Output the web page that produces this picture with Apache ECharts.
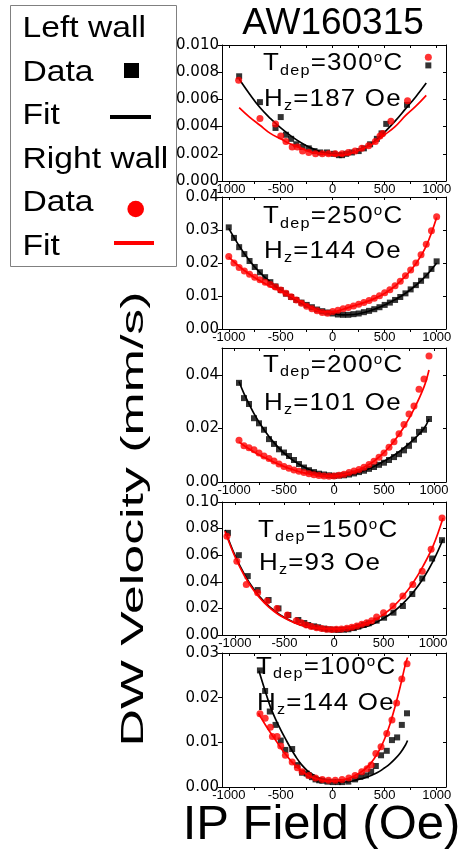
<!DOCTYPE html>
<html>
<head>
<meta charset="utf-8">
<script src="https://cdn.jsdelivr.net/npm/echarts@6/dist/echarts.min.js"></script>
<style>
  html, body { margin: 0; padding: 0; background: #fff; }
  #chart { width: 462px; height: 857px; }
</style>
</head>
<body>
<div id="chart"></div>
<script>
// ---- axis ticks and labels ----
const fieldLabels = [-1000, -500, 0, 500, 1000];
const fieldTicks = [-1000, -750, -500, -250, 0, 250, 500, 750, 1000];
const velLabels300 = [0, 0.002, 0.004, 0.006, 0.008, 0.010];
const velLabels250 = [0, 0.01, 0.02, 0.03, 0.04];
const velLabels200 = [0, 0.02, 0.04];
const velLabels150 = [0, 0.02, 0.04, 0.06, 0.08, 0.10];
const velLabels100 = [0, 0.01, 0.02, 0.03];

// ---- panel annotations ----
const depTemps = ['300', '250', '200', '150', '100'];
const hzValues = ['187', '144', '101', '93', '144'];

// ---- T_dep = 300 C ----
const left300Data = [[-900,0.0077],[-700,0.0058],[-550,0.0039],[-500,0.0047],[-450,0.0034],[-400,0.0031],[-350,0.0027],[-290,0.0025],[-230,0.0024],[-175,0.0022],[-120,0.0021],[-55,0.0021],[10,0.0020],[60,0.0019],[90,0.0019],[130,0.0020],[185,0.0021],[250,0.0022],[300,0.0024],[360,0.0027],[425,0.0031],[470,0.0035],[515,0.0042],[715,0.0056],[920,0.0085]];
const left300Fit = [[-900,0.0075],[-800,0.0064],[-700,0.0054],[-600,0.0046],[-500,0.0039],[-400,0.0033],[-300,0.0028],[-200,0.0024],[-100,0.0021],[0,0.0020],[100,0.0019],[200,0.0021],[300,0.0024],[400,0.0029],[500,0.0036],[600,0.0044],[700,0.0053],[800,0.0062],[900,0.0072]];
const right300Data = [[-905,0.0074],[-700,0.0046],[-550,0.0042],[-500,0.0033],[-450,0.0029],[-390,0.0025],[-340,0.0025],[-290,0.0022],[-230,0.0021],[-165,0.0020],[-100,0.0020],[-40,0.0020],[25,0.0020],[90,0.0020],[150,0.0021],[215,0.0022],[280,0.0024],[345,0.0026],[410,0.0029],[455,0.0033],[480,0.0035],[560,0.0044],[720,0.0059],[920,0.0091]];
const right300Fit = [[-900,0.0054],[-800,0.0047],[-700,0.0041],[-600,0.0035],[-500,0.0031],[-400,0.0027],[-300,0.0024],[-200,0.0021],[-100,0.0020],[0,0.0019],[100,0.0019],[200,0.0021],[300,0.0024],[400,0.0028],[500,0.0034],[600,0.0040],[700,0.0048],[800,0.0055],[900,0.0063]];

// ---- T_dep = 250 C ----
const left250Data = [[-1000,0.0308],[-950,0.0276],[-900,0.0248],[-850,0.0227],[-800,0.0206],[-750,0.0188],[-700,0.0172],[-650,0.0157],[-600,0.0142],[-550,0.0129],[-500,0.0118],[-450,0.0107],[-400,0.0097],[-350,0.0088],[-300,0.0080],[-250,0.0073],[-200,0.0066],[-150,0.0059],[-100,0.0054],[-50,0.0050],[0,0.0047],[50,0.0044],[100,0.0043],[150,0.0043],[200,0.0045],[250,0.0047],[300,0.0051],[350,0.0055],[400,0.0060],[450,0.0066],[500,0.0073],[550,0.0080],[600,0.0088],[650,0.0097],[700,0.0108],[750,0.0120],[800,0.0133],[850,0.0146],[900,0.0162],[950,0.0182],[1000,0.0205]];
const left250Fit = [[-1000,0.0305],[-900,0.0252],[-800,0.0207],[-700,0.0171],[-600,0.0142],[-500,0.0117],[-400,0.0096],[-300,0.0079],[-200,0.0065],[-100,0.0054],[0,0.0047],[100,0.0043],[200,0.0044],[300,0.0050],[400,0.0060],[500,0.0073],[600,0.0089],[700,0.0108],[800,0.0132],[900,0.0162],[1000,0.0200]];
const right250Data = [[-1000,0.0220],[-950,0.0200],[-900,0.0186],[-850,0.0176],[-800,0.0166],[-750,0.0157],[-700,0.0149],[-650,0.0142],[-600,0.0135],[-550,0.0127],[-500,0.0118],[-450,0.0108],[-400,0.0098],[-350,0.0088],[-300,0.0078],[-250,0.0069],[-200,0.0061],[-150,0.0055],[-100,0.0050],[-50,0.0048],[0,0.0053],[50,0.0057],[100,0.0061],[150,0.0065],[200,0.0070],[250,0.0075],[300,0.0080],[350,0.0086],[400,0.0093],[450,0.0101],[500,0.0110],[550,0.0119],[600,0.0131],[650,0.0145],[700,0.0161],[750,0.0179],[800,0.0200],[850,0.0225],[900,0.0257],[950,0.0298],[1000,0.0340]];
const right250Fit = [[-1000,0.0218],[-900,0.0190],[-800,0.0166],[-700,0.0146],[-600,0.0129],[-500,0.0114],[-400,0.0099],[-300,0.0082],[-200,0.0064],[-100,0.0052],[0,0.0052],[100,0.0060],[200,0.0070],[300,0.0080],[400,0.0092],[500,0.0108],[600,0.0130],[700,0.0160],[800,0.0198],[900,0.0252],[1000,0.0338]];

// ---- T_dep = 200 C ----
const left200Data = [[-950,0.0370],[-900,0.0313],[-850,0.0291],[-800,0.0238],[-750,0.0219],[-700,0.0195],[-650,0.0160],[-600,0.0142],[-550,0.0122],[-500,0.0110],[-450,0.0097],[-400,0.0082],[-350,0.0067],[-300,0.0054],[-250,0.0044],[-200,0.0037],[-150,0.0031],[-100,0.0028],[-50,0.0025],[0,0.0023],[50,0.0024],[100,0.0025],[150,0.0028],[200,0.0032],[250,0.0037],[300,0.0042],[350,0.0049],[400,0.0056],[450,0.0064],[500,0.0072],[550,0.0082],[600,0.0093],[650,0.0104],[700,0.0118],[750,0.0135],[800,0.0158],[850,0.0187],[900,0.0195],[950,0.0235]];
const left200Fit = [[-950,0.0375],[-900,0.0330],[-800,0.0255],[-700,0.0195],[-600,0.0147],[-500,0.0108],[-400,0.0078],[-300,0.0056],[-200,0.0039],[-100,0.0028],[0,0.0023],[100,0.0024],[200,0.0030],[300,0.0042],[400,0.0058],[500,0.0078],[600,0.0100],[700,0.0127],[800,0.0160],[900,0.0200],[950,0.0235]];
const right200Data = [[-950,0.0156],[-900,0.0135],[-850,0.0128],[-800,0.0120],[-750,0.0108],[-700,0.0097],[-650,0.0088],[-600,0.0078],[-550,0.0067],[-500,0.0058],[-450,0.0051],[-400,0.0045],[-350,0.0040],[-300,0.0035],[-250,0.0031],[-200,0.0027],[-150,0.0024],[-100,0.0022],[-50,0.0021],[0,0.0022],[50,0.0025],[100,0.0029],[150,0.0035],[200,0.0041],[250,0.0047],[300,0.0055],[350,0.0065],[400,0.0077],[450,0.0092],[500,0.0108],[550,0.0130],[600,0.0150],[650,0.0180],[700,0.0215],[750,0.0254],[800,0.0284],[850,0.0346],[900,0.0384],[950,0.0470]];
const right200Fit = [[-950,0.0150],[-900,0.0136],[-800,0.0112],[-700,0.0092],[-600,0.0074],[-500,0.0058],[-400,0.0045],[-300,0.0034],[-200,0.0027],[-100,0.0022],[0,0.0022],[100,0.0027],[200,0.0038],[300,0.0055],[400,0.0078],[500,0.0110],[600,0.0152],[700,0.0205],[800,0.0272],[900,0.0355],[950,0.0418]];

// ---- T_dep = 150 C ----
const left150Data = [[-1070,0.0768],[-960,0.0600],[-870,0.0443],[-770,0.0338],[-660,0.0263],[-560,0.0200],[-460,0.0150],[-360,0.0113],[-300,0.0090],[-260,0.0075],[-200,0.0065],[-160,0.0058],[-100,0.0048],[-60,0.0043],[0,0.0040],[45,0.0038],[100,0.0040],[145,0.0043],[200,0.0052],[245,0.0063],[300,0.0075],[350,0.0088],[430,0.0108],[505,0.0130],[600,0.0168],[695,0.0218],[790,0.0308],[890,0.0425],[990,0.0575],[1090,0.0713]];
const left150Fit = [[-1100,0.0790],[-1000,0.0600],[-900,0.0450],[-800,0.0335],[-700,0.0248],[-600,0.0181],[-500,0.0131],[-400,0.0094],[-300,0.0067],[-200,0.0049],[-100,0.0038],[0,0.0032],[100,0.0033],[200,0.0041],[300,0.0058],[400,0.0085],[500,0.0125],[600,0.0175],[700,0.0240],[800,0.0322],[900,0.0425],[1000,0.0555],[1100,0.0720]];
const right150Data = [[-1080,0.0743],[-980,0.0555],[-885,0.0380],[-770,0.0318],[-675,0.0255],[-575,0.0200],[-470,0.0150],[-380,0.0108],[-330,0.0092],[-280,0.0075],[-230,0.0064],[-175,0.0055],[-125,0.0048],[-75,0.0043],[-25,0.0042],[25,0.0043],[75,0.0045],[130,0.0050],[180,0.0058],[230,0.0068],[280,0.0080],[330,0.0093],[380,0.0108],[430,0.0135],[500,0.0168],[595,0.0218],[695,0.0293],[795,0.0380],[890,0.0480],[980,0.0645],[1090,0.0880]];
const right150Fit = [[-1100,0.0780],[-1000,0.0590],[-900,0.0440],[-800,0.0325],[-700,0.0240],[-600,0.0175],[-500,0.0127],[-400,0.0092],[-300,0.0068],[-200,0.0054],[-100,0.0047],[0,0.0046],[100,0.0050],[200,0.0061],[300,0.0080],[400,0.0110],[500,0.0155],[600,0.0215],[700,0.0295],[800,0.0395],[900,0.0520],[1000,0.0670],[1100,0.0880]];

// ---- T_dep = 100 C ----
const left100Data = [[-700,0.0261],[-650,0.0215],[-605,0.0169],[-550,0.0139],[-500,0.0104],[-455,0.0083],[-390,0.0085],[-340,0.0049],[-295,0.0032],[-250,0.0030],[-230,0.0026],[-200,0.0022],[-165,0.0017],[-130,0.0015],[-100,0.0014],[-50,0.0012],[0,0.0011],[50,0.0011],[90,0.0011],[150,0.0012],[215,0.0017],[265,0.0023],[320,0.0026],[370,0.0034],[415,0.0047],[465,0.0071],[520,0.0081],[570,0.0105],[620,0.0111],[665,0.0139],[715,0.0165]];
const left100Fit = [[-710,0.0260],[-650,0.0215],[-600,0.0180],[-550,0.0152],[-500,0.0128],[-450,0.0106],[-400,0.0085],[-350,0.0066],[-300,0.0050],[-250,0.0038],[-200,0.0029],[-150,0.0022],[-100,0.0017],[-50,0.0014],[0,0.0012],[50,0.0011],[100,0.0011],[150,0.0012],[200,0.0014],[250,0.0017],[300,0.0020],[350,0.0024],[400,0.0029],[450,0.0035],[500,0.0043],[550,0.0052],[600,0.0063],[650,0.0076],[700,0.0094],[720,0.0104]];
const right100Data = [[-700,0.0164],[-650,0.0154],[-600,0.0134],[-580,0.0113],[-535,0.0113],[-500,0.0092],[-455,0.0071],[-390,0.0056],[-340,0.0043],[-295,0.0034],[-230,0.0026],[-165,0.0020],[-100,0.0017],[-40,0.0015],[25,0.0015],[90,0.0017],[155,0.0020],[215,0.0026],[280,0.0034],[330,0.0041],[370,0.0049],[415,0.0075],[465,0.0090],[520,0.0120],[570,0.0150],[615,0.0188],[665,0.0242],[715,0.0276]];
const right100Fit = [[-715,0.0165],[-650,0.0140],[-600,0.0122],[-550,0.0105],[-500,0.0088],[-450,0.0072],[-400,0.0058],[-350,0.0046],[-300,0.0036],[-250,0.0028],[-200,0.0022],[-150,0.0018],[-100,0.0015],[-50,0.0013],[0,0.0013],[50,0.0014],[100,0.0016],[150,0.0019],[200,0.0024],[250,0.0030],[300,0.0038],[350,0.0049],[400,0.0064],[450,0.0083],[500,0.0108],[550,0.0140],[600,0.0180],[650,0.0225],[700,0.0275],[720,0.0290]];

// ---- panel layout ----
const panels = [
  { top: 45,  bottom: 181, xr: [-1065, 1090], ymax: 0.010, yl: velLabels300, dec: 3, tx: 263, tdy: 18.5, hdy: 54.5,
    ld: left300Data, lf: left300Fit, rd: right300Data, rf: right300Fit },
  { top: 197, bottom: 329, xr: [-1065, 1090], ymax: 0.04, yl: velLabels250, dec: 2, tx: 263, tdy: 19.5, hdy: 54,
    ld: left250Data, lf: left250Fit, rd: right250Data, rf: right250Fit },
  { top: 348, bottom: 482, xr: [-1120, 1120], ymax: 0.05, yl: velLabels200, dec: 2, tx: 263, tdy: 17, hdy: 55,
    ld: left200Data, lf: left200Fit, rd: right200Data, rf: right200Fit },
  { top: 502, bottom: 635, xr: [-1130, 1130], ymax: 0.10, yl: velLabels150, dec: 2, tx: 258, tdy: 28, hdy: 61.5,
    ld: left150Data, lf: left150Fit, rd: right150Data, rf: right150Fit },
  { top: 653, bottom: 787, xr: [-1065, 1090], ymax: 0.03, yl: velLabels100, dec: 2, tx: 256, tdy: 14, hdy: 50.5,
    ld: left100Data, lf: left100Fit, rd: right100Data, rf: right100Fit }
];

const FONT = '"Liberation Sans", Arial, sans-serif';
const TICK_FONT = '"DejaVu Sans", sans-serif';
const RED = '#ff0000';

const grids = [], xAxes = [], yAxes = [], series = [];
panels.forEach((p, i) => {
  grids.push({ left: 222, width: 224, top: p.top, height: p.bottom - p.top });
  xAxes.push({
    type: 'value', gridIndex: i, min: p.xr[0], max: p.xr[1], position: 'bottom',
    axisLine: { onZero: false, lineStyle: { color: '#000', width: 1 } },
    axisTick: { customValues: fieldTicks, length: 3, lineStyle: { color: '#000' } },
    axisLabel: { customValues: fieldLabels, fontSize: 13, color: '#000', margin: 2, fontFamily: FONT,
      formatter: v => String(v) },
    splitLine: { show: false }
  });
  xAxes.push({
    type: 'value', gridIndex: i, min: p.xr[0], max: p.xr[1], position: 'top',
    axisLine: { onZero: false, lineStyle: { color: '#000', width: 1 } },
    axisTick: { customValues: fieldTicks, length: 3, inside: true, lineStyle: { color: '#000' } },
    axisLabel: { show: false }, splitLine: { show: false }
  });
  yAxes.push({
    type: 'value', gridIndex: i, min: 0, max: p.ymax, position: 'left',
    axisLine: { show: true, onZero: false, lineStyle: { color: '#000', width: 1 } },
    axisTick: { show: true, customValues: p.yl, length: 4, lineStyle: { color: '#000' } },
    axisLabel: { customValues: p.yl, fontSize: 15, color: '#000', margin: 3, fontFamily: TICK_FONT,
      formatter: v => v.toFixed(p.dec) },
    splitLine: { show: false }
  });
  yAxes.push({
    type: 'value', gridIndex: i, min: 0, max: p.ymax, position: 'right',
    axisLine: { show: true, onZero: false, lineStyle: { color: '#000', width: 1 } },
    axisTick: { show: true, customValues: p.yl, length: 3, inside: true, lineStyle: { color: '#000' } },
    axisLabel: { show: false }, splitLine: { show: false }
  });
  const xi = i * 2, yi = i * 2;
  series.push({ type: 'scatter', xAxisIndex: xi, yAxisIndex: yi, data: p.ld, symbol: 'rect', symbolSize: 6,
    itemStyle: { color: '#000' }, silent: true, z: 2 });
  series.push({ type: 'line', xAxisIndex: xi, yAxisIndex: yi, data: p.lf, showSymbol: false, smooth: 0.4,
    lineStyle: { color: '#000', width: 1.7 }, silent: true, z: 3 });
  series.push({ type: 'scatter', xAxisIndex: xi, yAxisIndex: yi, data: p.rd, symbol: 'circle', symbolSize: 7,
    itemStyle: { color: RED }, silent: true, z: 4 });
  series.push({ type: 'line', xAxisIndex: xi, yAxisIndex: yi, data: p.rf, showSymbol: false, smooth: 0.4,
    lineStyle: { color: RED, width: 1.7 }, silent: true, z: 5 });
});

// ---- text drawn character by character with a horizontal stretch ----
const measureCtx = document.createElement('canvas').getContext('2d');
function textRow(x, yMid, pieces, stretch, gap) {
  const out = [];
  let cx = x;
  pieces.forEach(pc => {
    const font = pc.s + 'px ' + FONT;
    measureCtx.font = font;
    for (const ch of pc.t) {
      const w = measureCtx.measureText(ch).width * stretch;
      out.push({ type: 'text', x: cx, y: yMid + (pc.dy || 0), scaleX: stretch, silent: true, z: 100,
        style: { text: ch, font: font, fill: '#000', align: 'left', verticalAlign: 'middle' } });
      cx += w + gap;
    }
  });
  return out;
}

const graphics = [];
panels.forEach((p, i) => {
  graphics.push(...textRow(p.tx, p.top + p.tdy, [
    { t: 'T', s: 24 }, { t: 'dep', s: 15, dy: 7.3 }, { t: '=' + depTemps[i], s: 24 },
    { t: 'o', s: 14, dy: -5.3 }, { t: 'C', s: 24 }
  ], 1.08, 1.2));
  graphics.push(...textRow(p.tx + 1, p.top + p.hdy, [
    { t: 'H', s: 24 }, { t: 'z', s: 15, dy: 6.7 }, { t: '=' + hzValues[i] + ' Oe', s: 24 }
  ], 1.08, 1.2));
});

// title and axis titles
graphics.push({ type: 'text', x: 333, y: 23.5, silent: true,
  style: { text: 'AW160315', font: '37px ' + FONT, fill: '#000', align: 'center', verticalAlign: 'middle' } });
graphics.push({ type: 'text', x: 321.5, y: 825.5, silent: true,
  style: { text: 'IP Field (Oe)', font: '49px ' + FONT, fill: '#000', align: 'center', verticalAlign: 'middle' } });
graphics.push({ type: 'text', x: 134, y: 519, rotation: Math.PI / 2, scaleX: 1.62, silent: true,
  style: { text: 'DW Velocity (mm/s)', font: '32px ' + FONT, fill: '#000', align: 'center', verticalAlign: 'middle' } });

// key box
graphics.push({ type: 'rect', shape: { x: 10.5, y: 5.5, width: 166, height: 261 }, silent: true,
  style: { fill: '#fff', stroke: '#808080', lineWidth: 1 } });
const keyRows = ['Left wall', 'Data', 'Fit', 'Right wall', 'Data', 'Fit'];
const keyY = [28.7, 72.5, 116, 159.5, 203, 246.5];
keyRows.forEach((t, k) => {
  graphics.push({ type: 'text', x: 22.5, y: keyY[k], scaleX: 1.16, silent: true, z: 10,
    style: { text: t, font: '29px ' + FONT, fill: '#000', align: 'left', verticalAlign: 'middle' } });
});
graphics.push({ type: 'rect', shape: { x: 124, y: 63, width: 15, height: 15 }, silent: true, z: 10, style: { fill: '#000' } });
graphics.push({ type: 'line', shape: { x1: 110, y1: 117, x2: 151, y2: 117 }, silent: true, z: 10, style: { stroke: '#000', lineWidth: 4 } });
graphics.push({ type: 'circle', shape: { cx: 135.7, cy: 209, r: 8.3 }, silent: true, z: 10, style: { fill: RED } });
graphics.push({ type: 'line', shape: { x1: 114, y1: 243, x2: 154, y2: 243 }, silent: true, z: 10, style: { stroke: RED, lineWidth: 4 } });

const chart = echarts.init(document.getElementById('chart'), null, { renderer: 'canvas' });
chart.setOption({
  animation: false,
  backgroundColor: '#fff',
  textStyle: { fontFamily: FONT },
  grid: grids,
  xAxis: xAxes,
  yAxis: yAxes,
  series: series,
  graphic: { elements: graphics }
});
</script>
</body>
</html>
